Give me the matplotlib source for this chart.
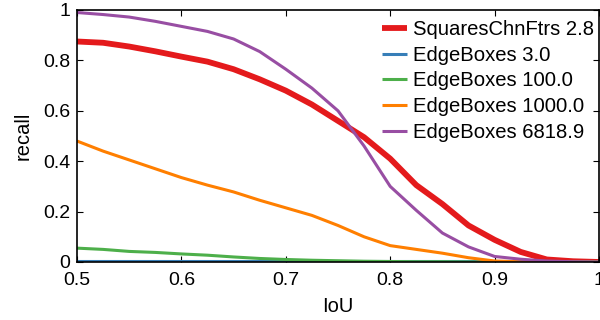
import numpy as np
import matplotlib
matplotlib.use('Agg')
import matplotlib.pyplot as plt

plt.rcParams['font.family'] = ['Liberation Sans', 'DejaVu Sans']

# IoU thresholds
iou = [0.500, 0.525, 0.550, 0.575, 0.600, 0.625, 0.650, 0.675, 0.700, 0.725,
       0.750, 0.775, 0.800, 0.825, 0.850, 0.875, 0.900, 0.925, 0.950, 0.975, 1.000]

# recall curves
squares_28 = [0.875, 0.870, 0.855, 0.836, 0.815, 0.795, 0.765, 0.725, 0.680, 0.625,
              0.560, 0.495, 0.410, 0.305, 0.230, 0.145, 0.088, 0.040, 0.010, 0.003, 0.000]
edge_3 = [0.002] * 21
edge_100 = [0.055, 0.050, 0.042, 0.038, 0.032, 0.027, 0.020, 0.014, 0.010, 0.007,
            0.005, 0.003, 0.002, 0.001, 0.001, 0.000, 0.000, 0.000, 0.000, 0.000, 0.000]
edge_1000 = [0.480, 0.440, 0.405, 0.370, 0.335, 0.305, 0.278, 0.245, 0.215, 0.185,
             0.145, 0.100, 0.065, 0.050, 0.035, 0.017, 0.004, 0.001, 0.000, 0.000, 0.000]
edge_6819 = [0.990, 0.982, 0.972, 0.955, 0.935, 0.915, 0.885, 0.835, 0.765, 0.690,
             0.600, 0.460, 0.300, 0.205, 0.115, 0.060, 0.022, 0.011, 0.004, 0.001, 0.000]

labels = ['SquaresChnFtrs 2.8', 'EdgeBoxes 3.0', 'EdgeBoxes 100.0',
          'EdgeBoxes 1000.0', 'EdgeBoxes 6818.9']
colors = ['#e41a1c', '#377eb8', '#4daf4a', '#ff7f00', '#984ea3']
widths = [4.2, 2.2, 2.2, 2.2, 2.2]
series = [squares_28, edge_3, edge_100, edge_1000, edge_6819]

fig = plt.figure(figsize=(6, 3.2), dpi=100)
ax = fig.add_axes([77/600, 58/320, 522/600, 252/320])

for vals, lab, c, lw in zip(series, labels, colors, widths):
    ax.plot(iou, vals, color=c, lw=lw, label=lab, solid_capstyle='butt')

ax.set_xlim(0.5, 1.0)
ax.set_ylim(0, 1)
ax.set_xticks([0.5, 0.6, 0.7, 0.8, 0.9, 1.0])
ax.set_xticklabels(['0.5', '0.6', '0.7', '0.8', '0.9', '1'])
ax.set_yticks([0, 0.2, 0.4, 0.6, 0.8, 1.0])
ax.set_yticklabels(['0', '0.2', '0.4', '0.6', '0.8', '1'])
ax.tick_params(axis='both', direction='in', length=4, width=0.8, top=True, right=True,
               labelsize=14)
ax.tick_params(axis='x', pad=7)
ax.tick_params(axis='y', pad=5)
for s in ax.spines.values():
    s.set_linewidth(1.2)
ax.set_xlabel('IoU', fontsize=14.5, labelpad=6)
ax.set_ylabel('recall', fontsize=14.5, labelpad=7)

ax.legend(loc='upper left', bbox_to_anchor=(382/600, 1 - 20/320),
          bbox_transform=fig.transFigure, frameon=False, fontsize=14.6,
          handlelength=1.25, handletextpad=0.3, labelspacing=0.33,
          borderpad=0, borderaxespad=0)

fig.savefig('out.png', dpi=100)
